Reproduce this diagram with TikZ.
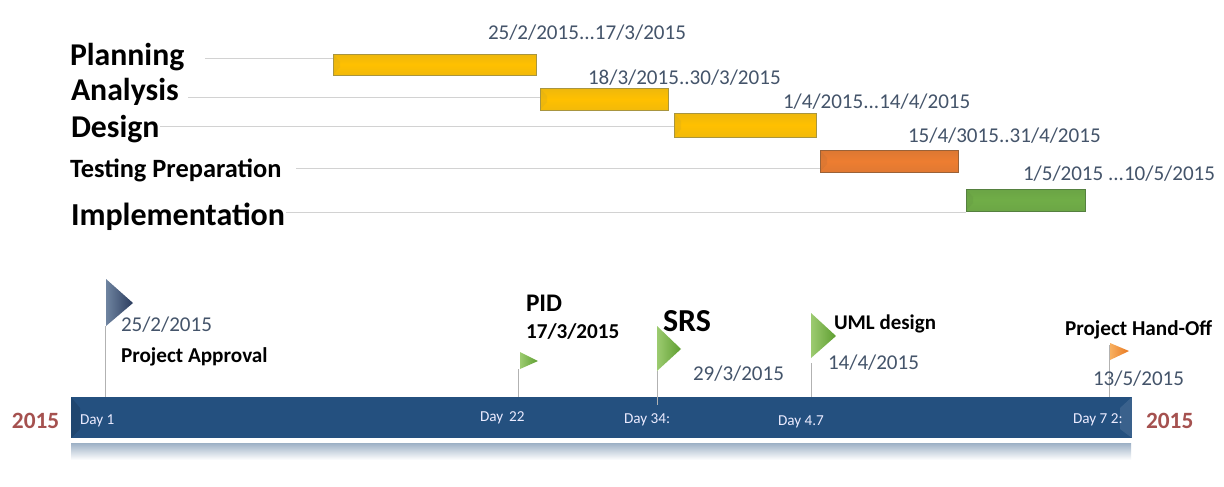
\documentclass[tikz,border=0pt]{standalone}
\usepackage{fontspec}
\setmainfont{Carlito}
\usetikzlibrary{calc}
\definecolor{datecol}{HTML}{44546A}
\definecolor{yearcol}{HTML}{A5514F}
\definecolor{linecol}{HTML}{D2D2D2}
\definecolor{barblue}{HTML}{24507F}
\definecolor{yedge}{HTML}{A89540}
\definecolor{yfill}{HTML}{FFC000}
\definecolor{oedge}{HTML}{9A6238}
\definecolor{ofill}{HTML}{ED7D31}
\definecolor{gedge}{HTML}{55803F}
\definecolor{gfill}{HTML}{70AD47}
\definecolor{flagl}{HTML}{9CCB70}
\definecolor{flagr}{HTML}{5E9E30}
\definecolor{blueflagl}{HTML}{6F84A0}
\definecolor{blueflagr}{HTML}{2B3C5E}
\definecolor{orflagl}{HTML}{F8B060}
\definecolor{orflagr}{HTML}{E87820}
\newcommand{\fs}[1]{\fontsize{#1}{#1}\selectfont}
\tikzset{
 x=0.75pt,y=-0.75pt,
 txt/.style={anchor=base west,inner sep=0pt,outer sep=0pt},
 phase/.style={txt,font=\fs{23.8}\bfseries,text=black},
 date/.style={txt,font=\fs{15.8},text=datecol},
 mile/.style={txt,font=\fs{15.9}\bfseries,text=black},
 year/.style={txt,font=\fs{17.5}\bfseries,text=yearcol},
 daylab/.style={txt,font=\fs{11.4},text=white!92!blue},
 link/.style={draw=linecol,line width=0.75pt},
 pole/.style={draw=linecol!85!black,line width=0.75pt},
 gbar/.style={inner sep=0pt,outer sep=0pt,anchor=north west,line width=0.75pt},
 greenflag/.style={left color=flagl,right color=flagr},
}
\newcommand{\barnode}[7]{% name, x0,y0,x1,y1, edge, fill
 \node[gbar,draw=#6,minimum width=#4*0.75pt-#2*0.75pt,minimum height=#5*0.75pt-#3*0.75pt,
   top color=#7!80!#6,bottom color=#7!85!#6,middle color=#7] (#1) at (#2,#3) {};
 \fill[#6,opacity=.15] (#2,#3) -- (#2+7,#3+8) -- (#2+7,#5-8) -- (#2,#5) -- cycle;
}
\begin{document}
\begin{tikzpicture}
\useasboundingbox (0,0) rectangle (1224,486);
\fill[white] (0,0) rectangle (1224,486);

% bars
\barnode{planbar}{333}{54}{536}{75}{yedge}{yfill}
\barnode{anabar}{540}{88}{668}{110}{yedge}{yfill}
\barnode{desbar}{674}{113}{816}{137}{yedge}{yfill}
\barnode{testbar}{820}{150}{958}{172}{oedge}{ofill}
\barnode{implbar}{966}{189}{1085}{211}{gedge}{gfill}

% phase labels
\node[phase] (planlab) at (70,65) {Planning};
\node[phase] (analab) at (71,100) {Analysis};
\node[phase] (deslab) at (71,137) {Design};
\node[phase,font=\fs{19.8}\bfseries] (testlab) at (70,177) {Testing Preparation};
\node[phase,font=\fs{24}\bfseries] (impllab) at (71,225) {Implementation};

% connectors
\coordinate (plane) at (205,58);
\coordinate (anae) at (188,97);
\coordinate (dese) at (160,126);
\coordinate (teste) at (296,168);
\coordinate (imple) at (286,212);
\draw[link] (plane) -- (planbar.west |- plane);
\draw[link] (anae) -- (anabar.west |- anae);
\draw[link] (dese) -- (desbar.west |- dese);
\draw[link] (teste) -- (testbar.west |- teste);
\draw[link] (imple) -- (implbar.west |- imple);

% dates of phases
\node[date] (d1) at (488,39.5) {25/2/2015...17/3/2015};
\node[date] (d2) at (588,84) {18/3/2015..30/3/2015};
\node[date] (d3) at (783,108) {1/4/2015...14/4/2015};
\node[date] (d4) at (908,142) {15/4/3015..31/4/2015};
\node[date] (d5) at (1023,180) {1/5/2015 ...10/5/2015};

% reflection
\shade[top color=barblue!45!white,bottom color=white] (71,443) rectangle (1131,460);
% timeline
\node[gbar,fill=barblue,minimum width=1061*0.75pt,minimum height=41*0.75pt] (tl) at (71,397) {};
\fill[white,opacity=.10] (1120,408) -- (1132,397) -- (1132,438) -- (1120,429) -- cycle;
\fill[black,opacity=.12] (71,397) -- (80,408) -- (80,429) -- (71,438) -- cycle;

% flag poles
\coordinate (f1) at (105,326);
\coordinate (f2) at (518,369);
\coordinate (f3) at (657,371);
\coordinate (f4) at (811,363);
\coordinate (f5) at (1109,345);
\coordinate (f3b) at (657,405);
\draw[pole] (f1) -- (tl.north -| f1);
\draw[pole] (f2) -- (tl.north -| f2);
\draw[pole] (f3) -- (f3b);
\draw[pole] (f4) -- (tl.north -| f4);
\draw[pole] (f5) -- (tl.north -| f5);

% flags
\shade[left color=blueflagl,right color=blueflagr] (106,279) -- (133,303) -- (106,326) -- cycle;
\shade[greenflag] (520,352) -- (538,361) -- (520,369) -- cycle;
\shade[greenflag] (657,326) -- (681,349) -- (657,371) -- cycle;
\shade[greenflag] (811,313) -- (836,336) -- (811,358) -- cycle;
\shade[left color=orflagl,right color=orflagr] (1110,343) -- (1129,351) -- (1110,360) -- cycle;

% milestones
\node[date] (m1d) at (121,331) {25/2/2015};
\node[mile] (m1) at (121,362) {Project Approval};
\node[mile,font=\fs{19}\bfseries] (m2) at (526,311) {PID};
\node[mile] (m2d) at (526,338) {17/3/2015};
\node[mile,font=\fs{24}\bfseries] (m3) at (663,331) {SRS};
\node[date] (m3d) at (693,380) {29/3/2015};
\node[mile,font=\fs{15.7}\bfseries] (m4) at (834,329) {UML design};
\node[date] (m4d) at (828,369) {14/4/2015};
\node[mile] (m5) at (1065,335) {Project Hand-Off};
\node[date] (m5d) at (1093,385) {13/5/2015};

% years
\node[year] (y1) at (12,428) {2015};
\node[year] (y2) at (1146,428) {2015};

% days
\node[daylab] (day1) at (80,424) {Day 1};
\node[daylab] (day2) at (480,421) {Day \,22};
\node[daylab] (day3) at (624,423) {Day 34:};
\node[daylab] (day4) at (778,425) {Day 4.7};
\node[daylab] (day5) at (1073,423) {Day 7 2:};
\end{tikzpicture}
\end{document}
